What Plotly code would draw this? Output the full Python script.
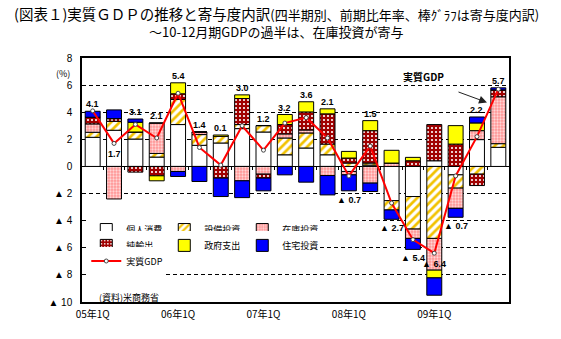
import plotly.graph_objects as go

# ---------------- data ----------------
quarters = [f"{y:02d}年{q}Q" for y in range(5, 10) for q in range(1, 5)]
tick_quarters = ["05年1Q", "06年1Q", "07年1Q", "08年1Q", "09年1Q"]

consumption = [2.15, 2.67, 2.02, 0.69, 3.09, 1.56, 1.73, 2.79, 2.54, 0.86,
               1.36, 0.86, -0.37, 0.10, -2.52, -2.22, 0.42, -0.62, 1.98, 1.41]
capex = [0.37, 0.66, 0.52, 0.27, 1.85, 0.79, 0.49, 0.30, 0.47, 1.24,
         1.11, 0.79, 0.25, 0.15, -0.69, -2.40, -5.31, -0.98, -0.57, 0.27]
inventory = [0.62, -2.40, 0.00, 2.24, -0.37, 0.19, 0.00, -1.06, -0.57, 0.30,
             0.22, -0.67, -0.25, -1.23, 0.25, -0.69, -2.34, -1.49, 0.66, 3.46]
net_exports = [0.49, 0.20, -0.42, -0.69, 0.42, 0.00, -0.86, 1.92, -0.29, 0.69,
               1.33, 2.23, 0.37, 2.39, 0.00, 0.42, 2.67, 1.65, -0.84, 0.51]
government = [0.00, 0.00, 0.72, -0.37, 0.81, 0.00, 0.10, 0.27, 0.00, 0.74,
              0.75, 0.37, 0.49, 0.74, 0.94, 0.25, -0.57, 1.36, 0.57, 0.00]
housing = [0.44, 0.64, 0.24, 0.00, -0.37, -1.11, -1.36, -1.24, -0.94, -0.62,
           -1.16, -1.43, -1.18, -0.62, -0.69, -0.81, -1.28, -0.66, 0.44, 0.15]
real_gdp = [4.1, 1.7, 3.1, 2.1, 5.4, 1.4, 0.1, 3.0, 1.2, 3.2,
            3.6, 2.1, -0.7, 1.5, -2.7, -5.4, -6.4, -0.7, 2.2, 5.7]

y_ticks = [8, 6, 4, 2, 0, -2, -4, -6, -8, -10]
y_ticktext = ["8", "6", "4", "2", "0", "▲ 2", "▲ 4", "▲ 6", "▲ 8", "▲ 10"]

# ---------------- styling ----------------
JP = "Noto Sans CJK JP"
LAT = "Liberation Sans"

bar_styles = [
    ("個人消費", consumption, dict(color="white"), "legend"),
    ("設備投資", capex, dict(color="white", pattern=dict(shape="/", fgcolor="#F2C200", bgcolor="white",
                                                       size=6, solidity=0.45, fillmode="replace")), "legend"),
    ("在庫投資", inventory, dict(color="#FF9C9C", pattern=dict(shape=".", fgcolor="#FFD6D6", bgcolor="#FF9494",
                                                         size=3, solidity=0.45, fillmode="replace")), "legend"),
    ("純輸出", net_exports, dict(color="#A00000", pattern=dict(shape=".", fgcolor="white", bgcolor="#A00000",
                                                          size=4, solidity=0.22, fillmode="replace")), "legend2"),
    ("政府支出", government, dict(color="#FFFF00"), "legend2"),
    ("住宅投資", housing, dict(color="#0000FF"), "legend2"),
]

fig = go.Figure()
for name, vals, marker, lg in bar_styles:
    marker = dict(marker)
    marker["line"] = dict(color="black", width=1)
    fig.add_trace(go.Bar(x=quarters, y=vals, name=name, marker=marker, legend=lg,
                         hoverinfo="skip"))

fig.add_trace(go.Scatter(
    x=quarters, y=real_gdp, name="実質GDP", mode="lines+markers", legend="legend3",
    line=dict(color="#FF0000", width=2),
    marker=dict(symbol="circle", size=4, color="white", line=dict(color="#444444", width=1)),
    hoverinfo="skip"))

# invisible trace for the tick marks on the zero line
fig.add_trace(go.Scatter(x=[0], y=[None], xaxis="x2", yaxis="y", showlegend=False,
                         hoverinfo="skip", mode="markers"))

# value labels
annotations = []
n = len(quarters)
comps = [consumption, capex, inventory, net_exports, government, housing]
for i in range(n):
    pos = sum(c[i] for c in comps if c[i] > 0)
    neg = sum(c[i] for c in comps if c[i] < 0)
    v = real_gdp[i]
    txt = f"{v:.1f}" if v >= 0 else f"▲ {abs(v):.1f}"
    if i in (1, 16):
        y, shift = v, -11
    elif v >= 0:
        y, shift = pos, 7
    else:
        y, shift = neg, -9
    annotations.append(dict(x=quarters[i], y=y, yshift=shift, text=txt, showarrow=False,
                            font=dict(family=LAT, size=9, color="black", weight="bold"),
                            xanchor="center", yanchor="middle"))

# titles
annotations.append(dict(
    xref="paper", yref="paper", x=0.4556, y=1.184, xanchor="center", yanchor="middle",
    text="(図表１)実質ＧＤＰの推移と寄与度内訳<span style='font-size:13px'>(四半期別、前期比年率、棒ｸﾞﾗﾌは寄与度内訳)</span>",
    showarrow=False, font=dict(family=JP, size=14.5, color="black")))
annotations.append(dict(
    xref="paper", yref="paper", x=0.4556, y=1.107, xanchor="center", yanchor="middle",
    text="～10-12月期GDPの過半は、在庫投資が寄与",
    showarrow=False, font=dict(family=JP, size=13, color="black")))
# unit
annotations.append(dict(xref="paper", yref="paper", x=-0.044, y=0.9385, text="(%)",
                        showarrow=False, font=dict(family=JP, size=9, color="black"),
                        xanchor="center", yanchor="middle"))
# source
annotations.append(dict(xref="paper", yref="paper", x=0.035, y=0.02, text="(資料)米商務省",
                        showarrow=False, font=dict(family=JP, size=9, color="black"),
                        xanchor="left", yanchor="middle"))
# 実質GDP label with arrow
annotations.append(dict(x=15.48, y=6.64, xref="x2", yref="y", text="<b>実質GDP</b>", showarrow=False,
                        font=dict(family=JP, size=10, color="black"), xanchor="center", yanchor="middle"))
annotations.append(dict(x=18.47, y=4.72, xref="x2", yref="y", ax=-30, ay=-11, text="",
                        showarrow=True, arrowhead=2, arrowsize=1.6, arrowwidth=1, arrowcolor="#222222"))

legend_common = dict(orientation="h", xanchor="left", yanchor="middle", bgcolor="white",
                     borderwidth=0, font=dict(family=JP, size=9, color="black"),
                     entrywidth=33, entrywidthmode="pixels", itemwidth=30, traceorder="normal")

fig.update_layout(
    width=561, height=339,
    margin=dict(l=82, r=52, t=58, b=37),
    paper_bgcolor="white", plot_bgcolor="white",
    barmode="relative", bargap=0.3,
    showlegend=True,
    legend=dict(legend_common, x=0.01, y=0.297),
    legend2=dict(legend_common, x=0.01, y=0.232),
    legend3=dict(legend_common, x=0.01, y=0.168),
    xaxis=dict(type="category", categoryorder="array", categoryarray=quarters,
               range=[-0.5, n - 0.5], tickvals=tick_quarters, ticktext=tick_quarters,
               ticks="", showgrid=False, zeroline=False,
               showline=True, mirror=True, linecolor="black", linewidth=1.5,
               tickfont=dict(family=JP, size=10, color="black"), ticklabelstandoff=2),
    xaxis2=dict(overlaying="x", anchor="free", position=10 / 18, range=[-0.5, n - 0.5],
                tickvals=[k + 0.5 for k in range(n - 1)], ticks="outside", ticklen=3,
                tickcolor="black", tickwidth=1, showticklabels=False, showline=False,
                showgrid=False, zeroline=False),
    yaxis=dict(range=[-10, 8], tickvals=y_ticks, ticktext=y_ticktext,
               showgrid=True, gridcolor="black", gridwidth=1, griddash="4px,3px",
               zeroline=True, zerolinecolor="black", zerolinewidth=1,
               showline=True, mirror=True, linecolor="black", linewidth=1.5,
               ticks="", tickfont=dict(family=LAT, size=10, color="black"),
               ticklabelstandoff=6),
    annotations=annotations,
)

fig.write_html("out.html")
